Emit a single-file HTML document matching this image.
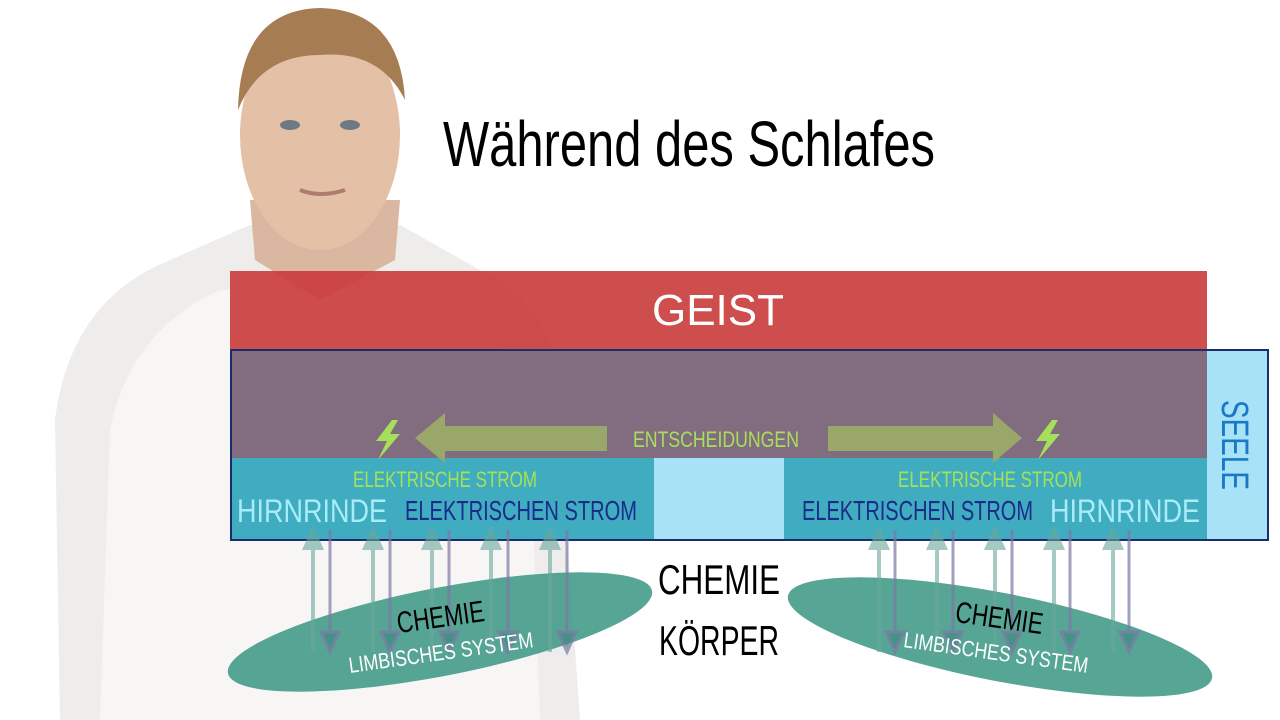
<!DOCTYPE html>
<html><head><meta charset="utf-8"><style>
html,body{margin:0;padding:0;background:#fff;width:1280px;height:720px;overflow:hidden}
svg{display:block;font-family:"Liberation Sans Narrow","Liberation Sans",sans-serif}
</style></head><body>
<svg width="1280" height="720" viewBox="0 0 1280 720">
<!-- person approximation -->
<path d="M60 720 L55 420 Q70 300 170 260 L250 225 L400 225 L480 270 Q540 300 555 360 L580 720 Z" fill="#efedeb"/>
<path d="M100 720 L110 430 Q130 330 220 290 L420 290 Q520 330 530 420 L540 720 Z" fill="#f7f6f5"/>
<path d="M250 200 L400 200 L395 260 L320 300 L255 260 Z" fill="#d9b7a0"/>
<ellipse cx="320" cy="135" rx="80" ry="115" fill="#e4c0a6"/>
<path d="M238 110 Q240 10 320 8 Q400 10 405 100 Q380 50 320 55 Q260 55 238 110 Z" fill="#a67c52"/>
<ellipse cx="290" cy="125" rx="10" ry="5" fill="#6b7a86"/>
<ellipse cx="350" cy="125" rx="10" ry="5" fill="#6b7a86"/>
<path d="M300 190 Q320 198 345 190" stroke="#b07a70" stroke-width="4" fill="none"/>
<!-- title -->
<text x="443" y="166" font-size="64" fill="#000" textLength="492" lengthAdjust="spacingAndGlyphs">Während des Schlafes</text>
<!-- GEIST -->
<rect x="230" y="271" width="977" height="78" fill="#c93a3a" fill-opacity="0.9"/>
<text x="718" y="325" font-size="44" fill="#fff" text-anchor="middle">GEIST</text>
<!-- SEELE -->
<rect x="231" y="350" width="1037" height="190" fill="#a8e2f6" stroke="#1b2d6b" stroke-width="2"/>
<rect x="232" y="351" width="975" height="107" fill="#826d80"/>
<rect x="232" y="458" width="422" height="81" fill="#3aa9bd" fill-opacity="0.95"/>
<rect x="784" y="458" width="423" height="81" fill="#3aa9bd" fill-opacity="0.95"/>
<text transform="translate(1222,400) rotate(90)" font-size="38" fill="#1a78c8" textLength="90" lengthAdjust="spacingAndGlyphs">SEELE</text>
<!-- big arrows -->
<polygon points="607,426 445,426 445,413 415,438 445,463 445,451 607,451" fill="#9aa76a"/>
<polygon points="828,426 993,426 993,413 1022,438 993,463 993,451 828,451" fill="#9aa76a"/>
<text x="716" y="447" font-size="22" fill="#a6e05a" text-anchor="middle" textLength="166" lengthAdjust="spacingAndGlyphs">ENTSCHEIDUNGEN</text>
<polygon points="392,420 376,441 387,441 378,460 400,434 390,434 398,420" fill="#a6e05a"/>
<polygon points="1052,420 1036,441 1047,441 1038,460 1060,434 1050,434 1058,420" fill="#a6e05a"/>
<text x="445" y="487" font-size="22" fill="#a6e05a" text-anchor="middle" textLength="184" lengthAdjust="spacingAndGlyphs">ELEKTRISCHE STROM</text>
<text x="990" y="487" font-size="22" fill="#a6e05a" text-anchor="middle" textLength="184" lengthAdjust="spacingAndGlyphs">ELEKTRISCHE STROM</text>
<text x="237" y="522" font-size="32" fill="#a8ecfa" textLength="150" lengthAdjust="spacingAndGlyphs">HIRNRINDE</text>
<text x="405" y="520" font-size="28" fill="#1c2a8a" textLength="232" lengthAdjust="spacingAndGlyphs">ELEKTRISCHEN STROM</text>
<text x="802" y="520" font-size="28" fill="#1c2a8a" textLength="231" lengthAdjust="spacingAndGlyphs">ELEKTRISCHEN STROM</text>
<text x="1050" y="522" font-size="32" fill="#a8ecfa" textLength="150" lengthAdjust="spacingAndGlyphs">HIRNRINDE</text>
<!-- ellipses -->
<ellipse cx="440" cy="632" rx="216" ry="44" transform="rotate(-11 440 632)" fill="#3a9583" fill-opacity="0.85"/>
<ellipse cx="1000" cy="637" rx="216" ry="44" transform="rotate(11 1000 637)" fill="#3a9583" fill-opacity="0.85"/>
<!-- small arrows -->
<g stroke-width="4">
<g stroke="#6aa89e" fill="#6aa89e" opacity="0.6">
<line x1="313" y1="545" x2="313" y2="652"/><polygon points="305,548 313,530 321,548"/>
<line x1="373" y1="545" x2="373" y2="652"/><polygon points="365,548 373,530 381,548"/>
<line x1="432" y1="545" x2="432" y2="652"/><polygon points="424,548 432,530 440,548"/>
<line x1="491" y1="545" x2="491" y2="652"/><polygon points="483,548 491,530 499,548"/>
<line x1="550" y1="545" x2="550" y2="652"/><polygon points="542,548 550,530 558,548"/>
<line x1="879" y1="545" x2="879" y2="652"/><polygon points="871,548 879,530 887,548"/>
<line x1="937" y1="545" x2="937" y2="652"/><polygon points="929,548 937,530 945,548"/>
<line x1="995" y1="545" x2="995" y2="652"/><polygon points="987,548 995,530 1003,548"/>
<line x1="1054" y1="545" x2="1054" y2="652"/><polygon points="1046,548 1054,530 1062,548"/>
<line x1="1113" y1="545" x2="1113" y2="652"/><polygon points="1105,548 1113,530 1121,548"/>
</g>
<g stroke="#7c78a6" fill="#3f8a80" opacity="0.7" stroke-width="3">
<line x1="330" y1="530" x2="330" y2="635"/><polygon points="321,632 330,652 339,632"/>
<line x1="390" y1="530" x2="390" y2="635"/><polygon points="381,632 390,652 399,632"/>
<line x1="449" y1="530" x2="449" y2="635"/><polygon points="440,632 449,652 458,632"/>
<line x1="508" y1="530" x2="508" y2="635"/><polygon points="499,632 508,652 517,632"/>
<line x1="567" y1="530" x2="567" y2="635"/><polygon points="558,632 567,652 576,632"/>
<line x1="895" y1="530" x2="895" y2="635"/><polygon points="886,632 895,652 904,632"/>
<line x1="953" y1="530" x2="953" y2="635"/><polygon points="944,632 953,652 962,632"/>
<line x1="1012" y1="530" x2="1012" y2="635"/><polygon points="1003,632 1012,652 1021,632"/>
<line x1="1070" y1="530" x2="1070" y2="635"/><polygon points="1061,632 1070,652 1079,632"/>
<line x1="1129" y1="530" x2="1129" y2="635"/><polygon points="1120,632 1129,652 1138,632"/>
</g>
</g>
<!-- ellipse labels -->
<text transform="translate(442,627) rotate(-8)" font-size="30" fill="#000" text-anchor="middle" textLength="88" lengthAdjust="spacingAndGlyphs">CHEMIE</text>
<text transform="translate(442,660) rotate(-8)" font-size="22" fill="#fff" text-anchor="middle" textLength="186" lengthAdjust="spacingAndGlyphs">LIMBISCHES SYSTEM</text>
<text transform="translate(998,628) rotate(8)" font-size="30" fill="#000" text-anchor="middle" textLength="88" lengthAdjust="spacingAndGlyphs">CHEMIE</text>
<text transform="translate(995,660) rotate(8)" font-size="22" fill="#fff" text-anchor="middle" textLength="186" lengthAdjust="spacingAndGlyphs">LIMBISCHES SYSTEM</text>
<!-- center -->
<text x="719" y="594" font-size="42" fill="#000" text-anchor="middle" textLength="122" lengthAdjust="spacingAndGlyphs">CHEMIE</text>
<text x="719" y="655" font-size="42" fill="#000" text-anchor="middle" textLength="120" lengthAdjust="spacingAndGlyphs">KÖRPER</text>
</svg>
</body></html>
